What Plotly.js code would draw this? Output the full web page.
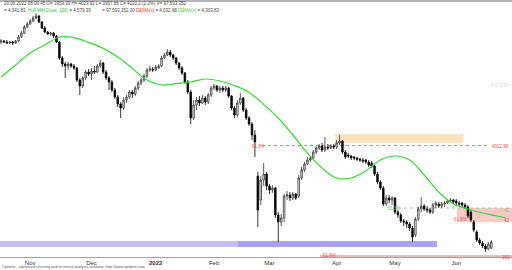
<!DOCTYPE html>
<html><head><meta charset="utf-8">
<script src="https://cdn.plot.ly/plotly-3.0.1.min.js"></script>
<style>html,body{margin:0;padding:0;background:#fff}#c{width:512px;height:270px}</style>
</head><body><div id="c"></div>
<script>
// ---- data ----
const startDate = '2021-10-18';
const holidays = ['2021-11-25','2021-12-24','2022-01-17','2022-02-21','2022-04-15','2022-05-30'];
const barCount = 169;
const tickLabels = ['Nov','Dec','<b>2022</b>','Feb','Mar','Apr','May','Jun'];

const open = [4530,4535,4530,4525,4530,4525,4535,4555,4575,4605,4620,4635,4650,4660,4630,4600,4580,4570,4575,4560,
4530,4450,4420,4410,4420,4410,4400,4340,4310,4350,4380,4370,4385,4380,4410,4425,4380,4350,4330,4290,
4255,4220,4200,4240,4255,4280,4270,4300,4325,4340,4360,4390,4395,4390,4400,4410,4450,4465,4480,4465,
4450,4425,4400,4375,4330,4280,4150,4215,4240,4225,4250,4230,4265,4300,4310,4290,4300,4290,4300,4260,
4200,4165,4225,4250,4190,4150,4120,4065,3860,3740,3840,3870,3810,3790,3800,3665,3630,3650,3760,3765,
3750,3770,3760,3850,3890,3920,3940,3950,3980,4000,4010,3990,4005,4000,4010,4005,4025,4035,3980,3965,
3960,3955,3950,3945,3940,3940,3930,3925,3910,3870,3830,3800,3720,3750,3740,3750,3680,3665,3635,3630,
3620,3600,3565,3645,3695,3710,3695,3690,3680,3715,3720,3710,3720,3725,3735,3740,3735,3725,3725,3715,
3705,3680,3630,3580,3540,3525,3510,3495,3500];
const high = [4545,4540,4540,4535,4535,4540,4565,4585,4615,4630,4645,4660,4675,4665,4635,4610,4585,4580,4580,4565,
4535,4460,4430,4430,4425,4420,4405,4350,4360,4390,4395,4400,4410,4420,4440,4430,4390,4360,4340,4300,
4265,4230,4255,4265,4290,4290,4310,4335,4350,4370,4400,4410,4405,4415,4420,4460,4475,4495,4490,4470,
4455,4430,4410,4380,4340,4290,4240,4255,4260,4265,4260,4275,4310,4320,4315,4310,4310,4310,4305,4265,
4210,4240,4275,4255,4200,4160,4130,4090,3880,3860,3925,3880,3820,3815,3805,3680,3670,3770,3785,3780,
3780,3775,3865,3905,3930,3955,3960,3990,4010,4020,4025,4055,4020,4020,4020,4040,4065,4040,3990,3975,
3965,3960,3955,3950,3950,3945,3940,3935,3915,3880,3840,3810,3765,3765,3760,3755,3690,3675,3645,3640,
3630,3610,3655,3705,3755,3720,3710,3700,3725,3735,3730,3730,3735,3745,3750,3745,3745,3735,3730,3725,
3715,3690,3640,3590,3550,3535,3520,3530,3540];
const low = [4520,4525,4520,4520,4515,4520,4530,4550,4570,4600,4615,4630,4645,4625,4595,4575,4565,4560,4550,4525,
4440,4405,4350,4390,4400,4390,4330,4265,4300,4340,4360,4340,4370,4375,4400,4370,4340,4290,4280,4245,
4205,4150,4190,4225,4245,4250,4260,4290,4315,4330,4350,4380,4380,4385,4395,4405,4445,4460,4455,4440,
4415,4390,4365,4320,4270,4120,4140,4190,4210,4220,4215,4220,4255,4290,4280,4275,4280,4280,4250,4190,
4150,4155,4215,4180,4140,4110,4040,3955,3605,3715,3810,3790,3770,3775,3650,3530,3610,3630,3740,3735,
3740,3740,3750,3840,3880,3915,3930,3940,3970,3990,3980,3980,3990,3995,3995,3995,4015,3970,3945,3950,
3940,3940,3935,3930,3925,3920,3905,3900,3860,3820,3790,3710,3710,3725,3715,3670,3650,3625,3610,3600,
3585,3530,3555,3635,3680,3685,3675,3670,3670,3700,3700,3700,3705,3720,3725,3720,3715,3710,3705,3695,
3650,3630,3580,3530,3515,3500,3480,3490,3495];
const close = [4535,4530,4525,4530,4525,4535,4555,4575,4605,4620,4635,4650,4660,4630,4600,4580,4570,4575,4560,4530,
4450,4420,4410,4420,4410,4400,4340,4310,4350,4380,4370,4385,4380,4410,4425,4380,4350,4330,4290,4255,
4220,4200,4240,4255,4280,4270,4300,4325,4340,4360,4390,4395,4390,4405,4410,4450,4465,4480,4465,4450,
4425,4400,4375,4330,4280,4150,4215,4240,4225,4250,4230,4265,4300,4310,4290,4300,4290,4300,4260,4200,
4165,4225,4250,4190,4150,4120,4065,4030,3690,3840,3870,3810,3790,3800,3665,3630,3650,3760,3765,3750,
3770,3750,3850,3890,3920,3940,3950,3980,4000,4010,3990,4005,4000,4010,4005,4025,4035,3980,3955,3960,
3950,3950,3945,3940,3935,3930,3915,3910,3870,3830,3800,3720,3750,3740,3750,3680,3665,3635,3630,3620,
3600,3555,3645,3695,3710,3695,3690,3680,3715,3725,3710,3720,3725,3735,3740,3730,3725,3720,3715,3705,
3660,3640,3590,3540,3525,3510,3495,3520,3530];

// moving average (bar index, value)
const maBar = [0,5,10,15,20,25,30,35,40,45,50,55,60,65,70,75,80,85,90,95,100,105,110,115,120,125,130,135,140,145,150,155,160,165,170,173];
const maVal = [4355,4415,4475,4515,4555,4552,4528,4498,4455,4398,4340,4315,4322,4330,4345,4335,4312,4278,4218,4150,4065,3975,3900,3850,3850,3885,3940,3960,3940,3865,3780,3720,3695,3675,3660,3650];

// ---- calendar ----
function tradingDays(start, n){
  const out=[]; const d=new Date(start+'T12:00:00Z');
  while(out.length<n){
    const wd=d.getUTCDay(); const s=d.toISOString().slice(0,10);
    if(wd!==0&&wd!==6&&holidays.indexOf(s)<0) out.push(s);
    d.setUTCDate(d.getUTCDate()+1);
  }
  return out;
}
const dates = tradingDays(startDate, barCount);
const idx = dates.map((d,i)=>i);
const tickVals=[];
for(let i=1;i<dates.length;i++){ if(dates[i].slice(5,7)!==dates[i-1].slice(5,7)) tickVals.push(i); }

// ---- layout helpers (pixel -> paper) ----
const W=512, PH=257;
const px=v=>v/W, py=v=>1-v/PH;

const shapes=[
  {type:'line',xref:'paper',yref:'paper',x0:0,x1:1,y0:py(1),y1:py(1),line:{color:'#b4b4b4',width:2}},
  {type:'rect',xref:'paper',yref:'paper',x0:px(335),x1:px(463),y0:py(134),y1:py(143),fillcolor:'#fde2bd',line:{width:0},layer:'below'},
  {type:'line',xref:'paper',yref:'paper',x0:px(262),x1:px(490),y0:py(145.5),y1:py(145.5),line:{color:'#f08080',width:1,dash:'dot'},layer:'below'},
  {type:'rect',xref:'paper',yref:'paper',x0:px(457),x1:px(512),y0:py(208),y1:py(222),fillcolor:'#f9c9c6',line:{width:0},layer:'below'},
  {type:'line',xref:'paper',yref:'paper',x0:px(398),x1:px(512),y0:py(208),y1:py(208),line:{color:'#9cc99c',width:1,dash:'dot'},layer:'below'},
  {type:'rect',xref:'paper',yref:'paper',x0:0,x1:px(238),y0:py(241),y1:py(247),fillcolor:'#c6c0f5',line:{width:0},layer:'below'},
  {type:'rect',xref:'paper',yref:'paper',x0:px(238),x1:px(437),y0:py(241),y1:py(247),fillcolor:'#aba1f1',line:{width:0},layer:'below'},
  {type:'line',xref:'paper',yref:'paper',x0:px(320),x1:1,y0:py(256),y1:py(256),line:{color:'#d97a7a',width:1}}
];

const F='Liberation Sans, Arial, sans-serif';
function ann(x,y,text,color,size,anchor){
  return {xref:'paper',yref:'paper',x:px(x),y:py(y),text:text,showarrow:false,xanchor:anchor||'left',yanchor:'middle',
          font:{family:F,size:size||4.5,color:color||'#333'}};
}
const annotations=[
  ann(2,4,'20.06.2022 08:00:45 O= 3959.39 H= 4029.92 L= 3957.86 C= 4020.2 (2.2%) V= 97,593,352','#444'),
  ann(2,11,'= 4,341.83, <span style="color:#3cb83c">Hull MA(Close, 100)</span> = 4,579.39','#444'),
  ann(100,11,'= 97,593,352.00 <span style="color:#e03030">DEMA(x)</span> = 4,032.98 <span style="color:#4cc84c">DEMA(x)</span> = 4,303.83','#444'),
  ann(250,146,'61.8%','#e05050',4.5),
  ann(511,146,'4012.98','#e05050',4.5,'right'),
  ann(511,86,'4,579.39','#d8d8d8',4.5,'right'),
  ann(385,208,'50.0%','#7cc07c',4.5),
  ann(452,219,'61.8%','#e05050',4.5),
  ann(512,210,'42','#7cc07c',4.5,'right'),
  ann(512,220,'42','#e05050',4.5,'right'),
  ann(321,255.5,'61.8%','#e05050',4.5),
  ann(512,257,'161','#e05050',4.5,'right'),
  ann(0,267,'Optimer - advanced charting and technical analysis software. http://www.optimer.com','#555',3.8)
];

const traces=[
  {type:'scatter',mode:'lines',x:maBar,y:maVal,line:{color:'#39d339',width:1.2,shape:'spline'},hoverinfo:'skip'},
  {type:'candlestick',x:idx,open:open,high:high,low:low,close:close,
   increasing:{line:{color:'#333',width:0.8},fillcolor:'#ffffff'},
   decreasing:{line:{color:'#000',width:0.8},fillcolor:'#000000'},
   whiskerwidth:0,hoverinfo:'skip'}
];

const layout={
  width:512,height:270,margin:{l:0,r:0,t:0,b:13},
  paper_bgcolor:'#fff',plot_bgcolor:'#fff',showlegend:false,boxgap:0.25,
  xaxis:{range:[-0.35,175.1],tickvals:tickVals,ticktext:tickLabels,showgrid:false,zeroline:false,
         showline:true,linecolor:'#a0a0a0',linewidth:1,ticks:'',ticklen:0,
         tickfont:{family:F,size:6,color:'#333'},rangeslider:{visible:false},fixedrange:true},
  yaxis:{range:[3455,4740],visible:false,fixedrange:true},
  shapes:shapes,annotations:annotations
};
Plotly.newPlot('c',traces,layout,{staticPlot:true,displayModeBar:false});
</script></body></html>
